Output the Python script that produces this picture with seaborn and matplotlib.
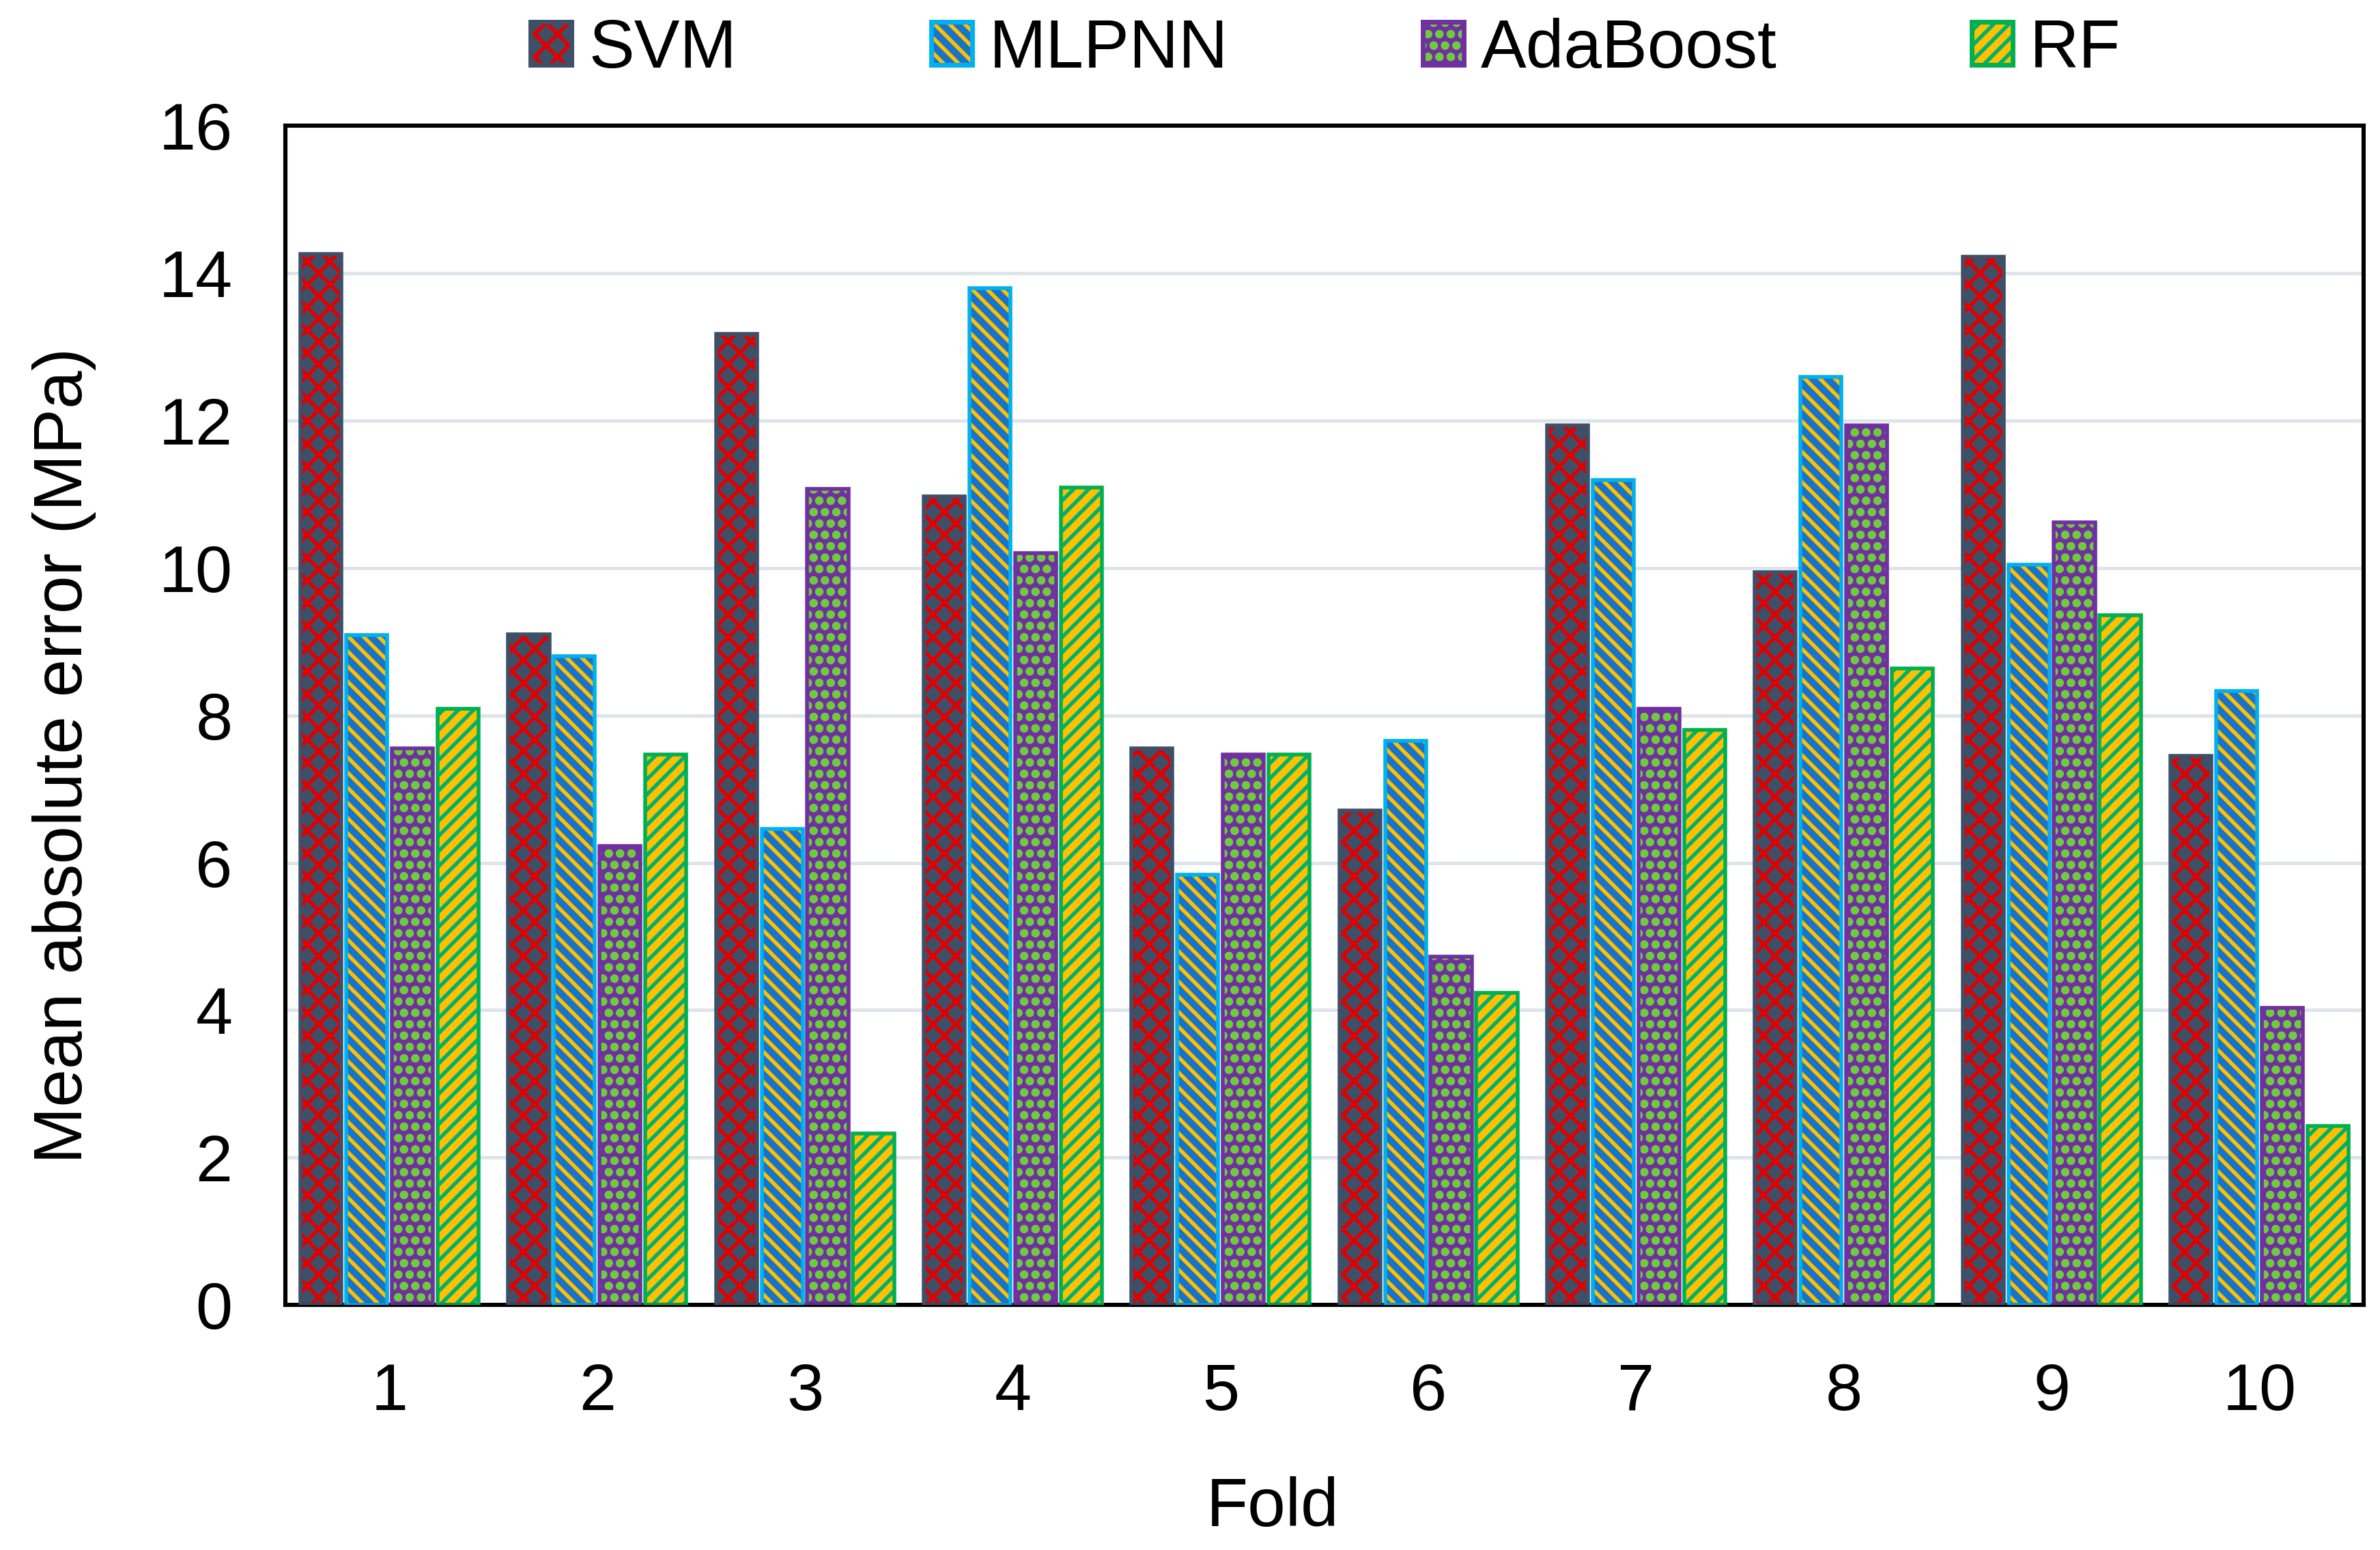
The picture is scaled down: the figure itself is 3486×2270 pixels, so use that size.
import pandas as pd
import matplotlib.pyplot as plt
import seaborn as sns
from matplotlib.patches import Patch, Rectangle
from matplotlib.legend_handler import HandlerTuple

# Data
folds = ["1", "2", "3", "4", "5", "6", "7", "8", "9", "10"]
models = ["SVM", "MLPNN", "AdaBoost", "RF"]
svm = [14.26, 9.10, 13.17, 10.97, 7.55, 6.71, 11.93, 9.94, 14.22, 7.45]
mlpnn = [9.09, 8.80, 6.46, 13.79, 5.84, 7.65, 11.19, 12.59, 10.04, 8.33]
adaboost = [7.55, 6.23, 11.07, 10.20, 7.47, 4.73, 8.09, 11.93, 10.62, 4.03]
rf = [8.09, 7.47, 2.33, 11.09, 7.47, 4.24, 7.80, 8.64, 9.36, 2.43]

# Excel-like pattern fills: face, pattern colour, border, hatch
styles = {
    "SVM": ("#3E5068", "#E00000", "#3E5068", "xx"),
    "MLPNN": ("#1874C8", "#FFC000", "#00B0F0", "\\\\\\"),
    "AdaBoost": ("#7030A0", "#6ECC3C", "#7030A0", "oo"),
    "RF": ("#FFC000", "#00B070", "#00B050", "///"),
}

df = pd.DataFrame({
    "Fold": folds * 4,
    "Model": [m for m in models for _ in folds],
    "MAE": svm + mlpnn + adaboost + rf,
})

sns.set_style("white")
plt.rcParams["font.family"] = ["Liberation Sans", "DejaVu Sans"]
plt.rcParams["text.color"] = "black"
plt.rcParams["axes.labelcolor"] = "black"
plt.rcParams["hatch.linewidth"] = 2.0

fig = plt.figure(figsize=(17.43, 11.35), dpi=200)
ax = fig.add_axes([0.12, 0.158, 0.873, 0.761])

sns.barplot(data=df, x="Fold", y="MAE", hue="Model", hue_order=models,
            palette=[styles[m][0] for m in models], width=0.88, gap=0.1,
            errorbar=None, legend=False, ax=ax, zorder=2)

for model, cont in zip(models, ax.containers):
    face, hcol, edge, hatch = styles[model]
    for p in cont:
        p.set_facecolor(face)
        p.set_edgecolor(hcol)
        p.set_hatch(hatch)
        p.set_linewidth(0)
        ax.add_patch(Rectangle(p.get_xy(), p.get_width(), p.get_height(),
                               fill=False, edgecolor=edge, linewidth=2.0, zorder=3))

ax.set_ylim(0, 16)
ax.set_yticks(range(0, 17, 2))
ax.yaxis.grid(True, color="#DDE4EB", linewidth=1.8, zorder=0)
ax.set_axisbelow(True)
for s in ax.spines.values():
    s.set_color("black")
    s.set_linewidth(2.2)
ax.tick_params(axis="both", length=0, labelsize=35, colors="black")
ax.tick_params(axis="y", pad=28)
ax.tick_params(axis="x", pad=30)
ax.set_xlabel("Fold", fontsize=36, labelpad=28, x=0.475)
ax.set_ylabel("Mean absolute error (MPa)", fontsize=36, labelpad=33, y=0.466)

handles = []
for m in models:
    face, hcol, edge, hatch = styles[m]
    handles.append((Patch(facecolor=face, edgecolor=hcol, hatch=hatch, linewidth=0),
                    Patch(facecolor="none", edgecolor=edge, linewidth=2.5)))
fig.legend(handles, models, handler_map={tuple: HandlerTuple(ndivide=1)},
           loc="center", bbox_to_anchor=(0.557, 0.968), ncol=4, frameon=False,
           fontsize=36, handlelength=0.6, handleheight=0.6, handletextpad=0.25,
           columnspacing=2.85)

fig.savefig("out.png", dpi=200)
